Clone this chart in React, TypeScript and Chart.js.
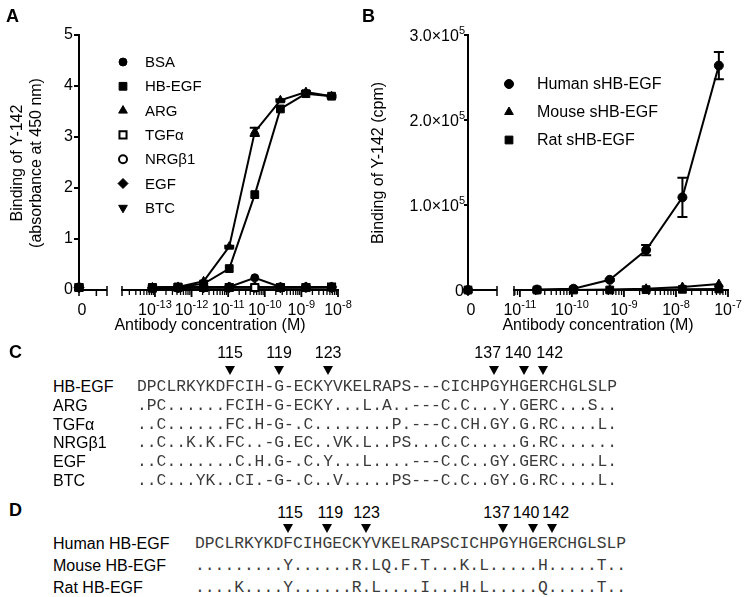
import React, { useEffect, useRef } from 'react';
import { Chart, registerables } from 'chart.js';
import { drawPoint } from 'chart.js/helpers';

Chart.register(...registerables);

const SANS = "'Liberation Sans', Arial, Helvetica, sans-serif";
const MONO = "'Liberation Mono', 'Courier New', monospace";

// ---------------- Panel A data ----------------
const concA = [8.53e-14, 4.27e-13, 2.13e-12, 1.07e-11, 5.33e-11, 2.67e-10, 1.33e-9, 6.67e-9];
const labelsA = ['BSA', 'HB-EGF', 'ARG', 'TGFα', 'NRGβ1', 'EGF', 'BTC'];
const bsaA = [0.05, 0.05, 0.06, 0.06, 0.24, 0.06, 0.06, 0.06];
const hbegfA = [0.05, 0.06, 0.12, 0.42, 1.87, 3.55, 3.85, 3.8];
const argA = [0.05, 0.06, 0.17, 0.85, 3.1, 3.72, 3.88, 3.8];
const tgfaA = [0.04, 0.05, 0.05, 0.05, 0.05, 0.05, 0.05, 0.06];
const nrgb1A = [0.04, 0.04, 0.05, 0.05, 0.05, 0.05, 0.05, 0.05];
const egfA = [0.04, 0.05, 0.05, 0.06, 0.06, 0.05, 0.06, 0.06];
const btcA = [0.04, 0.05, 0.05, 0.05, 0.05, 0.05, 0.05, 0.05];
const zeroA = [0.05, 0.05, 0.05, 0.05, 0.05, 0.05, 0.05];
const argErrA = [0, 0, 0, 0.02, 0.08, 0.02, 0.02, 0.02];
const yTicksA = [0, 1, 2, 3, 4, 5];
const decadesA = [-13, -12, -11, -10, -9, -8];

// ---------------- Panel B data ----------------
const concB = [2.13e-11, 1.07e-10, 5.33e-10, 2.67e-9, 1.33e-8, 6.67e-8];
const labelsB = ['Human sHB-EGF', 'Mouse sHB-EGF', 'Rat sHB-EGF'];
const humanB = [500, 1500, 12000, 47000, 109000, 264000];
const humanErrB = [0, 0, 1000, 6000, 23000, 16000];
const mouseB = [0, 0, 500, 1500, 3500, 7000];
const ratB = [0, 0, 0, 400, 800, 1200];
const zeroB = [0, 0, 0];
const yTicksB = [0, 100000, 200000, 300000];
const decadesB = [-11, -10, -9, -8, -7];

// ---------------- Panels C and D ----------------
const cNames = ['HB-EGF', 'ARG', 'TGFα', 'NRGβ1', 'EGF', 'BTC'];
const cSeqs = [
  'DPCLRKYKDFCIH-G-ECKYVKELRAPS---CICHPGYHGERCHGLSLP',
  '.PC......FCIH-G-ECKY...L.A..---C.C...Y.GERC...S..',
  '..C......FC.H-G-.C........P.---C.CH.GY.G.RC....L.',
  '..C..K.K.FC..-G.EC..VK.L..PS...C.C.....G.RC......',
  '..C.......C.H.G-.C.Y...L....---C.C..GY.GERC....L.',
  '..C...YK..CI.-G-.C..V.....PS---C.C..GY.G.RC....L.',
];
const cResidues = [115, 119, 123, 137, 140, 142];
const cColumns = [9, 14, 19, 36, 39, 41];
const cNumShift = [0, 0, 0, -7, -6, 6];

const dNames = ['Human HB-EGF', 'Mouse HB-EGF', 'Rat HB-EGF'];
const dSeqs = [
  'DPCLRKYKDFCIHGECKYVKELRAPSCICHPGYHGERCHGLSLP',
  '.........Y......R.LQ.F.T...K.L.....H.....T..',
  '....K....Y......R.L....I...H.L.....Q.....T..',
];
const dResidues = [115, 119, 123, 137, 140, 142];
const dColumns = [9, 13, 17, 31, 34, 36];
const dNumShift = [2, 3, 0, -7, -7, 3];

// ---------------- styles ----------------
const styleA = [
  { shape: 'circle', fill: '#000', r: 4, bw: 1, rot: 0 },
  { shape: 'rect', fill: '#000', r: 5.5, bw: 1, rot: 0 },
  { shape: 'triangle', fill: '#000', r: 5, bw: 1, rot: 0 },
  { shape: 'rect', fill: '#fff', r: 5, bw: 2, rot: 0 },
  { shape: 'circle', fill: '#fff', r: 4, bw: 2, rot: 0 },
  { shape: 'rectRot', fill: '#000', r: 5, bw: 1, rot: 0 },
  { shape: 'triangle', fill: '#000', r: 5, bw: 1, rot: 180 },
];
const styleB = [
  { shape: 'circle', fill: '#000', r: 4.5, bw: 1, rot: 0 },
  { shape: 'triangle', fill: '#000', r: 5, bw: 1, rot: 0 },
  { shape: 'rect', fill: '#000', r: 5.5, bw: 1, rot: 0 },
];

function makeDatasets(label: string, conc: number[], vals: number[], zero: number, st: any, errors?: number[]) {
  const common: any = {
    label,
    borderColor: '#000',
    backgroundColor: st.fill,
    pointBackgroundColor: st.fill,
    pointBorderColor: '#000',
    pointBorderWidth: st.bw,
    pointStyle: st.shape,
    pointRotation: st.rot,
    pointRadius: st.r,
    pointHoverRadius: st.r,
    clip: false,
  };
  return [
    { ...common, data: conc.map((c, i) => ({ x: c, y: vals[i] })), xAxisID: 'xl', yAxisID: 'y', borderWidth: 2, showLine: true, tension: 0, errors, inLegend: true, st },
    { ...common, data: [{ x: 0, y: zero }], xAxisID: 'x0', yAxisID: 'y', showLine: false, borderWidth: 2 },
  ];
}

function drawSup(ctx: CanvasRenderingContext2D, x: number, baseline: number, base: string, exp: string, align: 'center' | 'right') {
  ctx.font = `16px ${SANS}`;
  const bw = ctx.measureText(base).width;
  ctx.font = `11px ${SANS}`;
  const ew = exp ? ctx.measureText(exp).width : 0;
  const total = bw + ew;
  const sx = align === 'center' ? x - total / 2 : x - total;
  ctx.textAlign = 'left';
  ctx.textBaseline = 'alphabetic';
  ctx.fillStyle = '#000';
  ctx.font = `16px ${SANS}`;
  ctx.fillText(base, sx, baseline);
  if (exp) {
    ctx.font = `11px ${SANS}`;
    ctx.fillText(exp, sx + bw, baseline - 7);
  }
}

type Spec = {
  w: number; h: number; left: number; right: number; top: number; bottom: number;
  zeroBox: number; zeroLen: number; zeroTicks: number[];
  logMin: number; logMax: number; decades: number[];
  yMax: number; yTicks: number[]; customY: boolean;
  yTitle: string[]; yTitleX: number[]; yTitleY: number;
  xTitle: string; xTitleX: number; xTitleY: number;
  legendX: number; legendTextX: number; legendY0: number; legendDy: number; legendFont: number;
  datasets: any[];
};

function buildChart(canvas: HTMLCanvasElement, s: Spec) {
  const logTicks: { v: number; major: boolean }[] = [];
  for (let e = Math.floor(Math.log10(s.logMin)); e <= Math.ceil(Math.log10(s.logMax)); e++) {
    for (let k = 1; k <= 9; k++) {
      const v = k * Math.pow(10, e);
      if (v >= s.logMin * 1.0001 && v <= s.logMax * 1.0001) logTicks.push({ v, major: k === 1 });
    }
  }
  const decor = {
    id: 'decor',
    beforeDatasetsDraw(chart: any) {
      const ctx = chart.ctx as CanvasRenderingContext2D;
      const x0 = chart.scales.x0;
      const xl = chart.scales.xl;
      const yb = chart.chartArea.bottom;
      ctx.save();
      ctx.strokeStyle = '#000';
      ctx.lineWidth = 2;
      ctx.beginPath();
      ctx.moveTo(x0.getPixelForValue(0), yb);
      ctx.lineTo(x0.getPixelForValue(1), yb);
      ctx.stroke();
      ctx.lineWidth = 1.5;
      s.zeroTicks.forEach((v, i) => {
        const px = x0.getPixelForValue(v);
        ctx.beginPath();
        ctx.moveTo(px, i === s.zeroTicks.length - 1 ? yb - 4 : yb);
        ctx.lineTo(px, yb + 6);
        ctx.stroke();
      });
      const ls = xl.getPixelForValue(s.logMin);
      ctx.beginPath();
      ctx.moveTo(ls, yb - 4);
      ctx.lineTo(ls, yb + 6);
      ctx.stroke();
      logTicks.forEach((t) => {
        const px = xl.getPixelForValue(t.v);
        ctx.lineWidth = t.major ? 1.8 : 1.3;
        ctx.beginPath();
        ctx.moveTo(px, yb);
        ctx.lineTo(px, yb + (t.major ? 7 : 5));
        ctx.stroke();
      });
      ctx.restore();
    },
    afterDatasetsDraw(chart: any) {
      const ctx = chart.ctx as CanvasRenderingContext2D;
      const y = chart.scales.y;
      ctx.save();
      ctx.strokeStyle = '#000';
      ctx.lineWidth = 2;
      chart.data.datasets.forEach((ds: any, i: number) => {
        if (!ds.errors) return;
        const meta = chart.getDatasetMeta(i);
        ds.data.forEach((p: any, j: number) => {
          const e = ds.errors[j];
          if (!e) return;
          const px = meta.data[j].x;
          const t = y.getPixelForValue(p.y + e);
          const b = y.getPixelForValue(Math.max(0, p.y - e));
          ctx.beginPath();
          ctx.moveTo(px, t); ctx.lineTo(px, b);
          ctx.moveTo(px - 5, t); ctx.lineTo(px + 5, t);
          ctx.moveTo(px - 5, b); ctx.lineTo(px + 5, b);
          ctx.stroke();
        });
      });
      ctx.restore();
    },
    afterDraw(chart: any) {
      const ctx = chart.ctx as CanvasRenderingContext2D;
      const x0 = chart.scales.x0;
      const xl = chart.scales.xl;
      const y = chart.scales.y;
      const yb = chart.chartArea.bottom;
      ctx.save();
      drawSup(ctx, x0.getPixelForValue(0) + 3, yb + 25, '0', '', 'center');
      s.decades.forEach((d) => {
        drawSup(ctx, xl.getPixelForValue(Math.pow(10, d)), yb + 25, '10', String(d), 'center');
      });
      if (s.customY) {
        s.yTicks.forEach((v) => {
          const py = y.getPixelForValue(v);
          if (v === 0) drawSup(ctx, s.left - 4, py + 6, '0', '', 'right');
          else drawSup(ctx, s.left - 3, py + 6, (v / 100000).toFixed(1) + '×10', '5', 'right');
        });
      }
      ctx.fillStyle = '#000';
      ctx.font = `16px ${SANS}`;
      ctx.textAlign = 'center';
      ctx.textBaseline = 'middle';
      ctx.fillText(s.xTitle, s.xTitleX, s.xTitleY);
      s.yTitle.forEach((t, i) => {
        ctx.save();
        ctx.translate(s.yTitleX[i], s.yTitleY);
        ctx.rotate(-Math.PI / 2);
        ctx.fillText(t, 0, 0);
        ctx.restore();
      });
      const entries = chart.data.datasets.filter((d: any) => d.inLegend);
      entries.forEach((d: any, i: number) => {
        const yy = s.legendY0 + s.legendDy * i;
        ctx.fillStyle = d.st.fill;
        ctx.strokeStyle = '#000';
        ctx.lineWidth = d.st.bw;
        drawPoint(ctx, { pointStyle: d.st.shape, rotation: d.st.rot, radius: d.st.r, borderWidth: d.st.bw } as any, s.legendX, yy);
        ctx.fillStyle = '#000';
        ctx.font = `${s.legendFont}px ${SANS}`;
        ctx.textAlign = 'left';
        ctx.textBaseline = 'middle';
        ctx.fillText(d.label, s.legendTextX, yy + 1);
      });
      ctx.restore();
    },
  };

  const logWidth = s.right - s.left - s.zeroBox;
  return new Chart(canvas, {
    type: 'line',
    data: { datasets: s.datasets },
    options: {
      responsive: false,
      animation: false,
      events: [],
      layout: { padding: { left: 0, right: s.w - s.right, top: s.top, bottom: s.h - s.bottom - 30 } },
      plugins: { legend: { display: false }, tooltip: { enabled: false } },
      scales: {
        x0: {
          type: 'linear', position: 'bottom', stack: 'bx', stackWeight: s.zeroBox,
          min: 0, max: s.zeroBox / s.zeroLen,
          ticks: { display: false }, grid: { display: false }, border: { display: false },
          afterFit: (sc: any) => { sc.height = 30; },
        },
        xl: {
          type: 'logarithmic', position: 'bottom', stack: 'bx', stackWeight: logWidth,
          min: s.logMin, max: s.logMax,
          ticks: { display: false }, grid: { display: false },
          border: { display: true, color: '#000', width: 2 },
          afterFit: (sc: any) => { sc.height = 30; },
        },
        y: {
          type: 'linear', position: 'left', min: 0, max: s.yMax,
          afterBuildTicks: (sc: any) => { sc.ticks = s.yTicks.map((v) => ({ value: v })); },
          ticks: { display: !s.customY, font: { family: SANS, size: 16 }, color: '#000', padding: 1 },
          grid: { drawOnChartArea: false, drawTicks: true, tickLength: s.customY ? 4 : 5, color: '#000', lineWidth: 2 },
          border: { display: true, color: '#000', width: 2 },
          afterFit: (sc: any) => { sc.width = s.left; },
        },
      } as any,
    },
    plugins: [decor],
  } as any);
}

function ChartCanvas({ spec, left }: { spec: Spec; left: number }) {
  const ref = useRef<HTMLCanvasElement>(null);
  useEffect(() => {
    const chart = buildChart(ref.current!, spec);
    return () => chart.destroy();
  }, []);
  return (
    <canvas
      ref={ref}
      width={spec.w}
      height={spec.h}
      style={{ position: 'absolute', left, top: 0, width: spec.w, height: spec.h }}
    />
  );
}

const dsA = [bsaA, hbegfA, argA, tgfaA, nrgb1A, egfA, btcA].flatMap((vals, i) =>
  makeDatasets(labelsA[i], concA, vals, zeroA[i], styleA[i], i === 2 ? argErrA : undefined)
);
const dsB = [humanB, mouseB, ratB].flatMap((vals, i) =>
  makeDatasets(labelsB[i], concB, vals, zeroB[i], styleB[i], i === 0 ? humanErrB : undefined)
);

const specA: Spec = {
  w: 370, h: 345, left: 79, right: 338, top: 35, bottom: 290,
  zeroBox: 43, zeroLen: 28, zeroTicks: [0, 0.62, 1],
  logMin: Math.pow(10, -13.9), logMax: 1e-8, decades: decadesA,
  yMax: 5, yTicks: yTicksA, customY: false,
  yTitle: ['Binding of Y-142', '(absorbance at 450 nm)'], yTitleX: [18, 37], yTitleY: 163,
  xTitle: 'Antibody concentration (M)', xTitleX: 210, xTitleY: 326,
  legendX: 123, legendTextX: 145, legendY0: 62, legendDy: 24.3, legendFont: 15,
  datasets: dsA,
};

const specB: Spec = {
  w: 377, h: 345, left: 98, right: 358, top: 35, bottom: 290,
  zeroBox: 46, zeroLen: 29, zeroTicks: [0, 1],
  logMin: 7.7e-12, logMax: 1e-7, decades: decadesB,
  yMax: 300000, yTicks: yTicksB, customY: true,
  yTitle: ['Binding of Y-142 (cpm)'], yTitleX: [9], yTitleY: 163,
  xTitle: 'Antibody concentration (M)', xTitleX: 228, xTitleY: 326,
  legendX: 139, legendTextX: 167, legendY0: 84, legendDy: 28, legendFont: 16,
  datasets: dsB,
};

const CH = 9.8;

function Alignment(props: {
  letter: string; letterY: number; names: string[]; seqs: string[]; residues: number[]; columns: number[]; shifts: number[];
  seqLeft: number; rowY0: number; rowDy: number; numY: number; triY: number;
}) {
  const { letter, letterY, names, seqs, residues, columns, shifts, seqLeft, rowY0, rowDy, numY, triY } = props;
  return (
    <>
      <div style={{ position: 'absolute', left: 9, top: letterY - 11, font: `bold 18px ${SANS}`, lineHeight: '22px' }}>{letter}</div>
      {residues.map((r, i) => {
        const cx = seqLeft + (columns[i] + 0.5) * CH;
        return (
          <React.Fragment key={'m' + i}>
            <div style={{ position: 'absolute', left: cx + shifts[i] - 20, width: 40, textAlign: 'center', top: numY - 10, font: `16px ${SANS}`, lineHeight: '20px' }}>{r}</div>
            <div style={{ position: 'absolute', left: cx - 5.5, top: triY - 4.5, width: 0, height: 0, borderLeft: '5.5px solid transparent', borderRight: '5.5px solid transparent', borderTop: '9px solid #000' }} />
          </React.Fragment>
        );
      })}
      {names.map((n, i) => (
        <React.Fragment key={'r' + i}>
          <div style={{ position: 'absolute', left: 53, top: rowY0 + i * rowDy - 10, font: `16px ${SANS}`, lineHeight: '20px', whiteSpace: 'nowrap' }}>{n}</div>
          <div style={{ position: 'absolute', left: seqLeft, top: rowY0 + i * rowDy - 10, fontFamily: MONO, fontSize: `${CH / 0.6}px`, lineHeight: '20px', whiteSpace: 'pre', color: '#3a3a3a' }}>{seqs[i]}</div>
        </React.Fragment>
      ))}
    </>
  );
}

export default function App() {
  return (
    <div style={{ position: 'absolute', left: 0, top: 0, width: 747, height: 597, background: '#fff', overflow: 'hidden', color: '#000' }}>
      <ChartCanvas spec={specA} left={0} />
      <ChartCanvas spec={specB} left={370} />
      <div style={{ position: 'absolute', left: 6, top: 5, font: `bold 18px ${SANS}`, lineHeight: '22px' }}>A</div>
      <div style={{ position: 'absolute', left: 362, top: 5, font: `bold 18px ${SANS}`, lineHeight: '22px' }}>B</div>
      <Alignment letter="C" letterY={352} names={cNames} seqs={cSeqs} residues={cResidues} columns={cColumns} shifts={cNumShift}
        seqLeft={137} rowY0={387} rowDy={18.8} numY={353} triY={370} />
      <Alignment letter="D" letterY={510} names={dNames} seqs={dSeqs} residues={dResidues} columns={dColumns} shifts={dNumShift}
        seqLeft={195} rowY0={544} rowDy={22} numY={513} triY={528} />
    </div>
  );
}
